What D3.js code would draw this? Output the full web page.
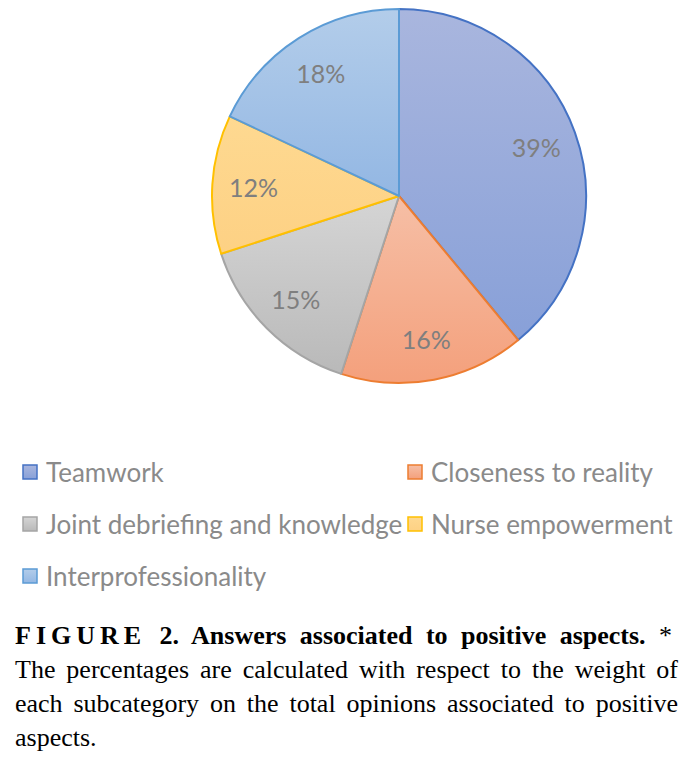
<!DOCTYPE html>
<html>
<head>
<meta charset="utf-8">
<script src="https://cdn.jsdelivr.net/npm/d3@7"></script>
<style>
  body { margin: 0; background: #fff; }
  svg { display: block; }
</style>
</head>
<body>
<div id="chart"></div>
<script>
const categories = ["Teamwork", "Closeness to reality", "Joint debriefing and knowledge", "Nurse empowerment", "Interprofessionality"];
const shares = [39, 16, 15, 12, 18];
const strokeColors = ["#4472c4", "#ed7d31", "#a5a5a5", "#ffc000", "#5b9bd5"];
const topColors = ["#a9b6de", "#f6bfa6", "#d5d5d5", "#fed991", "#b3cdea"];
const bottomColors = ["#88a0d8", "#f4a07c", "#b9b9b9", "#fdd184", "#93b7e3"];

const captionLines = [
  "The percentages are calculated with respect to the weight of",
  "each subcategory on the total opinions associated to positive",
  "aspects."
];

const width = 693, height = 760;
const cx = 399, cy = 196, radius = 187;

const svg = d3.select("#chart").append("svg")
  .attr("width", width)
  .attr("height", height);

const defs = svg.append("defs");
categories.forEach((c, i) => {
  const g = defs.append("linearGradient")
    .attr("id", "grad" + i)
    .attr("x1", 0).attr("y1", 0).attr("x2", 0).attr("y2", 1);
  g.append("stop").attr("offset", "0%").attr("stop-color", topColors[i]);
  g.append("stop").attr("offset", "100%").attr("stop-color", bottomColors[i]);
});

const pie = d3.pie().sort(null).value(d => d);
const arcs = pie(shares);
const arc = d3.arc().innerRadius(0).outerRadius(radius);
const labelArc = d3.arc().innerRadius(radius * 0.78).outerRadius(radius * 0.78);

const g = svg.append("g").attr("transform", `translate(${cx},${cy})`);

g.selectAll("path.slice")
  .data(arcs)
  .enter()
  .append("path")
  .attr("class", "slice")
  .attr("d", arc)
  .attr("fill", (d, i) => `url(#grad${i})`)
  .attr("stroke", (d, i) => strokeColors[i])
  .attr("stroke-width", 2)
  .attr("stroke-linejoin", "round");

g.selectAll("text.lbl")
  .data(arcs)
  .enter()
  .append("text")
  .attr("class", "lbl")
  .attr("transform", d => `translate(${labelArc.centroid(d)})`)
  .attr("text-anchor", "middle")
  .attr("dominant-baseline", "central")
  .attr("font-family", "Lato, 'Open Sans', sans-serif")
  .attr("font-size", 25)
  .attr("fill", "#7f7f7f")
  .text(d => d.data + "%");

// legend, two columns
const legendX = [23, 408];
const legendY = [472, 524, 576];
const legend = svg.append("g");
categories.forEach((c, i) => {
  const lx = legendX[i % 2];
  const ly = legendY[Math.floor(i / 2)];
  legend.append("rect")
    .attr("x", lx).attr("y", ly - 7)
    .attr("width", 14).attr("height", 14)
    .attr("fill", `url(#grad${i})`)
    .attr("stroke", strokeColors[i])
    .attr("stroke-width", 1.5);
  legend.append("text")
    .attr("x", lx + 23).attr("y", ly)
    .attr("dominant-baseline", "central")
    .attr("font-family", "Lato, 'Open Sans', sans-serif")
    .attr("font-size", 26)
    .attr("fill", "#8a8a8a")
    .text(c);
});

// caption, justified
const capLeft = 15, capRight = 678;
const cap = svg.append("g")
  .attr("font-family", "'Liberation Serif', 'Times New Roman', serif")
  .attr("font-size", 26)
  .attr("fill", "#000");

function justify(textSel, target) {
  const node = textSel.node();
  const w = node.getComputedTextLength();
  const gaps = (node.textContent.match(/ /g) || []).length;
  if (gaps > 0) textSel.attr("word-spacing", (target - w) / gaps);
}

const line1 = cap.append("text").attr("x", capLeft).attr("y", 644);
line1.append("tspan").attr("font-weight", "bold").attr("letter-spacing", 5).text("FIGURE");
line1.append("tspan").attr("font-weight", "bold").text(" 2. Answers associated to positive aspects.");
line1.append("tspan").text(" *");
justify(line1, 672 - capLeft);

captionLines.forEach((t, i) => {
  const tx = cap.append("text")
    .attr("x", capLeft)
    .attr("y", 678 + i * 34)
    .text(t);
  if (i < captionLines.length - 1) justify(tx, capRight - capLeft);
});
</script>
</body>
</html>
